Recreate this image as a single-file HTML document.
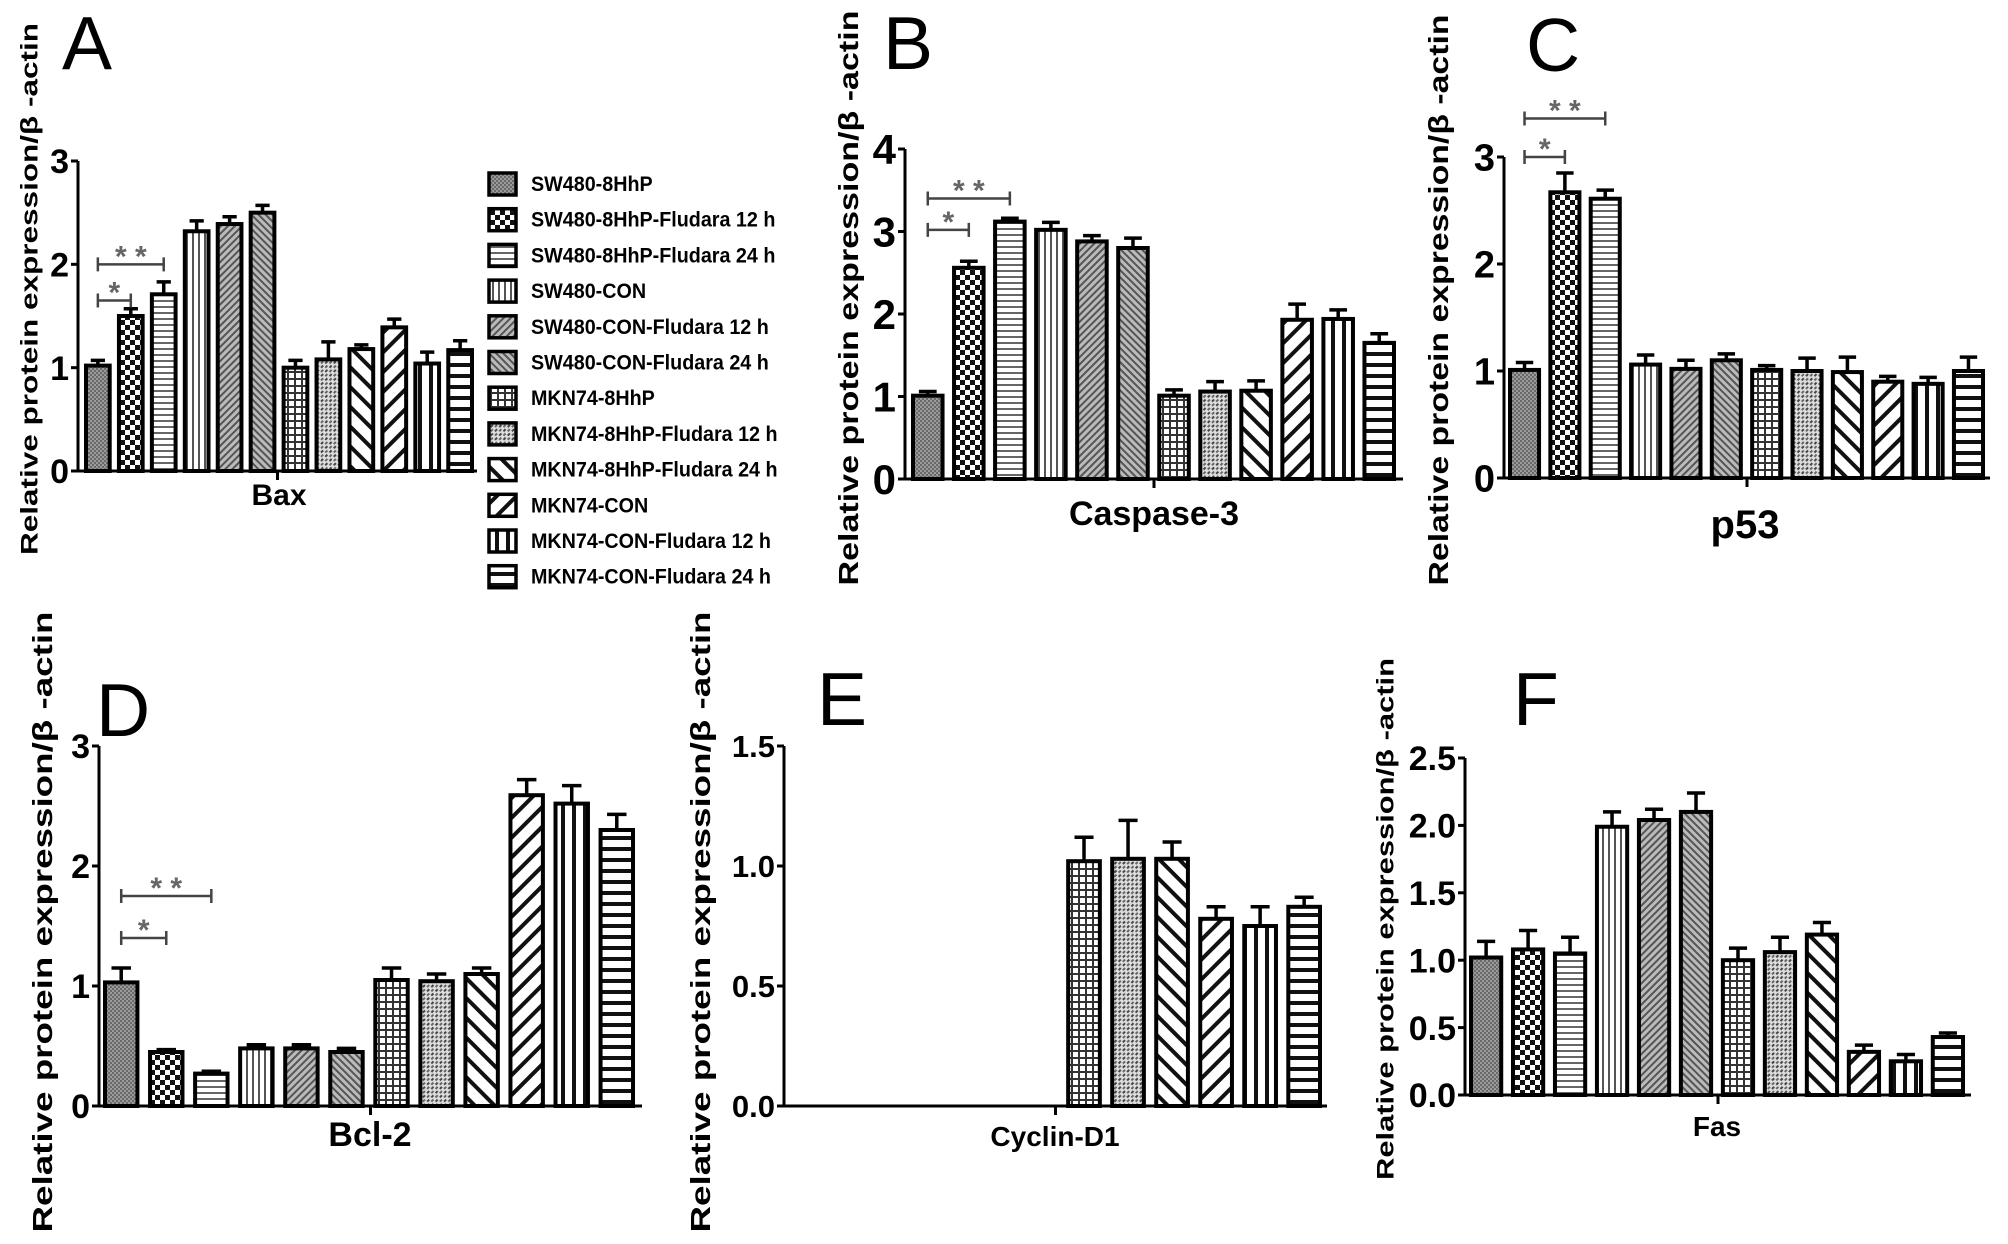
<!DOCTYPE html>
<html><head><meta charset="utf-8"><style>
html,body{margin:0;padding:0;background:#fff;}
svg{display:block;font-family:"Liberation Sans",sans-serif;}
</style></head><body>
<svg id="fig" width="2008" height="1244" viewBox="0 0 2008 1244" xmlns="http://www.w3.org/2000/svg">
<defs>
<pattern id="p1" patternUnits="userSpaceOnUse" width="4" height="4"><rect width="4" height="4" fill="#9a9a9a"/><rect width="2" height="2" fill="#6a6a6a"/><rect x="2" y="2" width="2" height="2" fill="#6a6a6a"/></pattern>
<pattern id="p2" patternUnits="userSpaceOnUse" width="10" height="10"><rect width="10" height="10" fill="#fff"/><rect width="5" height="5" fill="#111"/><rect x="5" y="5" width="5" height="5" fill="#111"/></pattern>
<pattern id="p3" patternUnits="userSpaceOnUse" width="6" height="6"><rect width="6" height="6" fill="#fff"/><rect y="0" width="6" height="2" fill="#666"/></pattern>
<pattern id="p4" patternUnits="userSpaceOnUse" width="6" height="6"><rect width="6" height="6" fill="#fff"/><rect x="0" width="2" height="6" fill="#555"/></pattern>
<pattern id="p5" patternUnits="userSpaceOnUse" width="5" height="5" patternTransform="rotate(45)"><rect width="5" height="5" fill="#bbb"/><rect width="2" height="5" fill="#555"/></pattern>
<pattern id="p6" patternUnits="userSpaceOnUse" width="5" height="5" patternTransform="rotate(-45)"><rect width="5" height="5" fill="#bbb"/><rect width="2" height="5" fill="#555"/></pattern>
<pattern id="p7" patternUnits="userSpaceOnUse" width="7" height="7"><rect width="7" height="7" fill="#fff"/><rect width="7" height="2" fill="#333"/><rect width="2" height="7" fill="#333"/></pattern>
<pattern id="p8" patternUnits="userSpaceOnUse" width="6" height="6" patternTransform="rotate(45)"><rect width="6" height="6" fill="#ddd"/><rect width="2" height="3" fill="#444"/><rect x="3" y="3" width="2" height="3" fill="#666"/></pattern>
<pattern id="p9" patternUnits="userSpaceOnUse" width="14" height="14" patternTransform="rotate(-45)"><rect width="14" height="14" fill="#fff"/><rect width="4" height="14" fill="#111"/></pattern>
<pattern id="p10" patternUnits="userSpaceOnUse" width="14" height="14" patternTransform="rotate(45)"><rect width="14" height="14" fill="#fff"/><rect width="4" height="14" fill="#111"/></pattern>
<pattern id="p11" patternUnits="userSpaceOnUse" width="11" height="11"><rect width="11" height="11" fill="#fff"/><rect width="4" height="11" fill="#111"/></pattern>
<pattern id="p12" patternUnits="userSpaceOnUse" width="11" height="11"><rect width="11" height="11" fill="#fff"/><rect width="11" height="4" fill="#111"/></pattern>
</defs>
</svg>
<script>
// ---- data ----
const groups = ["SW480-8HhP","SW480-8HhP-Fludara 12 h","SW480-8HhP-Fludara 24 h","SW480-CON","SW480-CON-Fludara 12 h","SW480-CON-Fludara 24 h","MKN74-8HhP","MKN74-8HhP-Fludara 12 h","MKN74-8HhP-Fludara 24 h","MKN74-CON","MKN74-CON-Fludara 12 h","MKN74-CON-Fludara 24 h"];
const baxValues = [1.02,1.50,1.71,2.32,2.39,2.50,1.00,1.08,1.18,1.39,1.04,1.17];
const baxErrors = [0.05,0.07,0.12,0.10,0.07,0.07,0.07,0.17,0.04,0.08,0.11,0.09];
const casp3Values = [1.01,2.56,3.12,3.02,2.88,2.80,1.01,1.06,1.07,1.93,1.94,1.65];
const casp3Errors = [0.05,0.08,0.04,0.09,0.07,0.12,0.07,0.12,0.12,0.19,0.11,0.11];
const p53Values = [1.01,2.67,2.61,1.06,1.02,1.10,1.01,1.00,0.99,0.90,0.88,1.00];
const p53Errors = [0.07,0.18,0.08,0.09,0.08,0.06,0.04,0.12,0.14,0.05,0.06,0.13];
const bcl2Values = [1.03,0.45,0.27,0.48,0.48,0.45,1.05,1.04,1.10,2.59,2.52,2.30];
const bcl2Errors = [0.12,0.02,0.02,0.03,0.03,0.03,0.10,0.06,0.05,0.13,0.15,0.13];
const cyclinValues = [null,null,null,null,null,null,1.02,1.03,1.03,0.78,0.75,0.83];
const cyclinErrors = [0,0,0,0,0,0,0.10,0.16,0.07,0.05,0.08,0.04];
const fasValues = [1.02,1.08,1.05,1.99,2.04,2.10,1.00,1.06,1.19,0.32,0.25,0.43];
const fasErrors = [0.12,0.14,0.12,0.11,0.08,0.14,0.09,0.11,0.09,0.05,0.05,0.03];
const ticks3 = ["0","1","2","3"];
const ticks4 = ["0","1","2","3","4"];
const ticksE = ["0.0","0.5","1.0","1.5"];
const ticksF = ["0.0","0.5","1.0","1.5","2.0","2.5"];
const sigA = [1.65, 2.0];
const sigB = [3.02, 3.40];
const sigC = [3.0, 3.36];
const sigD = [1.40, 1.75];

const NS="http://www.w3.org/2000/svg";
const svg=document.getElementById('fig');
function mk(tag,attrs,parent){const e=document.createElementNS(NS,tag);for(const k in attrs)e.setAttribute(k,attrs[k]);(parent||svg).appendChild(e);return e;}

const panels=[
 {id:"a",letter:"A",lx:62,ly:69,cat:"Bax",catX:279,catY:505,catFs:30,ax:78,y0:471,yTop:161,max:3,ticks:ticks3,tfs:34,first:86,last:472,end:477,tcx:29,tcy:289,tlen:532,tfont:24,vals:baxValues,errs:baxErrors,sig:sigA},
 {id:"b",letter:"B",lx:883,ly:69,cat:"Caspase-3",catX:1154,catY:525,catFs:34,ax:905,y0:479,yTop:149,max:4,ticks:ticks4,tfs:42,first:913,last:1394,end:1403,tcx:848,tcy:298,tlen:575,tfont:28,vals:casp3Values,errs:casp3Errors,sig:sigB},
 {id:"c",letter:"C",lx:1526,ly:71,cat:"p53",catX:1745,catY:538,catFs:40,ax:1504,y0:478,yTop:157,max:3,ticks:ticks3,tfs:38,first:1510,last:1983,end:1990,tcx:1438,tcy:300,tlen:571,tfont:28,vals:p53Values,errs:p53Errors,sig:sigC},
 {id:"d",letter:"D",lx:96,ly:736,cat:"Bcl-2",catX:370,catY:1146,catFs:34,ax:99,y0:1106,yTop:746,max:3,ticks:ticks3,tfs:34,first:105,last:633,end:642,tcx:42,tcy:922,tlen:621,tfont:28,vals:bcl2Values,errs:bcl2Errors,sig:sigD},
 {id:"e",letter:"E",lx:817,ly:725,cat:"Cyclin-D1",catX:1055,catY:1146,catFs:28,ax:784,y0:1106,yTop:746,max:1.5,ticks:ticksE,tfs:31,first:804,last:1320,end:1327,tcx:700,tcy:922,tlen:621,tfont:28,vals:cyclinValues,errs:cyclinErrors,sig:null},
 {id:"f",letter:"F",lx:1513,ly:725,cat:"Fas",catX:1717,catY:1136,catFs:28,ax:1465,y0:1095,yTop:758,max:2.5,ticks:ticksF,tfs:34,first:1471,last:1963,end:1971,tcx:1385,tcy:919,tlen:522,tfont:24,vals:fasValues,errs:fasErrors,sig:null}
];

panels.forEach(p=>{
  const g=mk('g',{});
  
  
  const yS=v=>p.y0-(v/p.max)*(p.y0-p.yTop);
  const wr=0.72;
  const pitch=(p.last-p.first)/(groups.length-1+wr);
  const bw=pitch*wr;
  const xL=i=>p.first+i*pitch;
  const xC=i=>xL(i)+bw/2;
  const L=mk('text',{x:p.lx,y:p.ly,'font-size':75,fill:'#000'},g);L.textContent=p.letter;
  
  
  const T=mk('text',{x:0,y:0,'font-size':p.tfont,'font-weight':'bold','text-anchor':'middle',textLength:p.tlen,lengthAdjust:'spacingAndGlyphs',transform:`translate(${p.tcx+p.tfont*0.35},${p.tcy}) rotate(-90)`},g);
  T.textContent="Relative protein expression/\u03b2 -actin";
  
  
  p.vals.forEach((v,i)=>{
    if(v===null) return;
    const top=yS(v);
    const r=mk('rect',{x:xL(i),y:top,width:bw,height:p.y0-top,fill:`url(#p${i+1})`,stroke:'#000','stroke-width':4},g);
    
    
    const et=yS(v+p.errs[i]);
    const e=mk('path',{d:`M${xC(i)} ${top} V${et} M${xC(i)-bw*0.3} ${et} H${xC(i)+bw*0.3}`,stroke:'#000','stroke-width':3.5,fill:'none'},g);
    
    
  });
  const ya=mk('path',{d:`M${p.ax} ${p.yTop} V${p.y0} H${p.end} M${(p.ax+p.end)/2} ${p.y0} v9`,stroke:'#000','stroke-width':3,fill:'none'},g);
  
  
  p.ticks.forEach(t=>{
    const y=yS(parseFloat(t));
    const tk=mk('path',{d:`M${p.ax-7} ${y} H${p.ax}`,stroke:'#000','stroke-width':3},g);
    
    
    const tl=mk('text',{x:p.ax-9,y:y+p.tfs*0.36,'font-size':p.tfs,'font-weight':'bold','text-anchor':'end'},g);
    tl.textContent=t;
    
    
  });
  const c=mk('text',{x:p.catX,y:p.catY,'font-size':p.catFs,'font-weight':'bold','text-anchor':'middle'},g);
  c.textContent=p.cat;
  
  
  if(p.sig){
    [[1,p.sig[0],'*'],[2,p.sig[1],'**']].forEach(([k,lv,s])=>{
      const y=yS(lv);
      const b=mk('path',{d:`M${xC(0)} ${y-7} v14 M${xC(0)} ${y} H${xC(k)} M${xC(k)} ${y-7} v14`,stroke:'#444','stroke-width':2.5,fill:'none'},g);
      
      
      const a=mk('text',{x:(xC(0)+xC(k))/2,y:y+2,'font-size':30,'font-weight':'bold',fill:'#666','text-anchor':'middle'},g);
      a.textContent=s==='*'?'*':'* *';
      
      
    });
  }
});

const lg=mk('g',{});


groups.forEach((name,i)=>{
  const cy=184+i*35.7;
  const bx=mk('rect',{x:489,y:cy-11,width:27,height:22,fill:`url(#p${i+1})`,stroke:'#000','stroke-width':3.5},lg);
  
  
  const tx=mk('text',{x:0,y:0,'font-size':21,'font-weight':'bold',transform:`translate(531,${cy+7}) scale(0.94,1)`},lg);
  tx.textContent=name;
  
  
});
</script>
</body></html>
